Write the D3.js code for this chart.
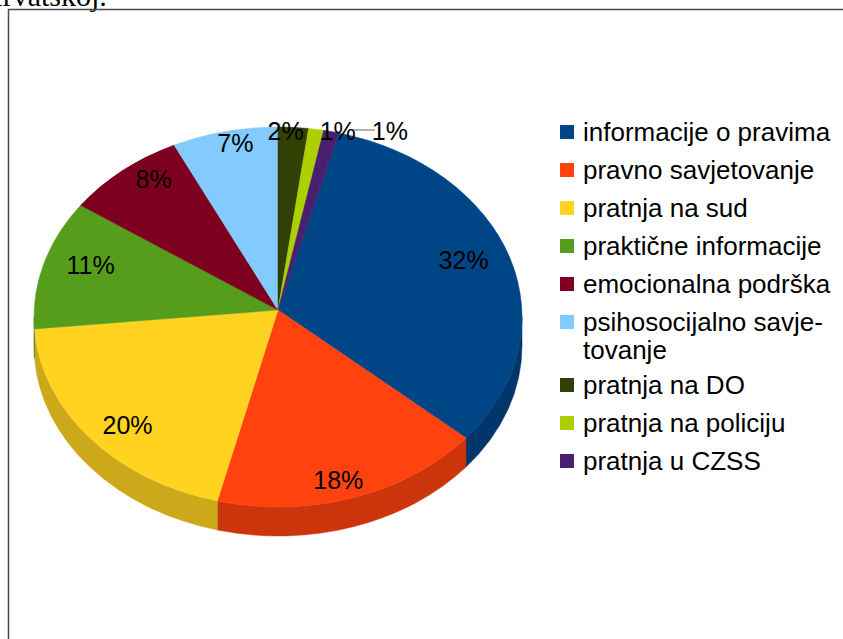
<!DOCTYPE html>
<html>
<head>
<meta charset="utf-8">
<script src="https://cdn.jsdelivr.net/npm/d3@7"></script>
<style>
  body { margin: 0; background: #fff; }
  svg { display: block; }
</style>
</head>
<body>
<div id="chart"></div>
<script>
// values (percent)
const categories = ["informacije o pravima", "pravno savjetovanje", "pratnja na sud",
    "praktične informacije", "emocionalna podrška", "psihosocijalno savjetovanje",
    "pratnja na DO", "pratnja na policiju", "pratnja u CZSS"];
const values = [32, 18, 20, 11, 8, 7, 2, 1, 1];
const colors = ["#004586", "#ff420e", "#ffd320", "#579d1c", "#7e0021",
    "#83caff", "#314004", "#aecf00", "#4b1f6f"];
const legendLines = [["informacije o pravima"], ["pravno savjetovanje"], ["pratnja na sud"],
    ["praktične informacije"], ["emocionalna podrška"], ["psihosocijalno savje-", "tovanje"],
    ["pratnja na DO"], ["pratnja na policiju"], ["pratnja u CZSS"]];

const W = 843, H = 639;
const font = "'Liberation Sans', Arial, sans-serif";

const svg = d3.select("#chart").append("svg")
    .attr("width", W)
    .attr("height", H);

// cut-off line of document text above the chart frame
svg.append("text")
    .attr("x", -19)
    .attr("y", 6)
    .style("font-family", "'Liberation Serif', 'Times New Roman', serif")
    .style("font-size", "30px")
    .text("Hrvatskoj.");

// chart frame (runs off the page right and bottom)
svg.append("rect")
    .attr("x", 8.5).attr("y", 9.5)
    .attr("width", 900).attr("height", 700)
    .attr("fill", "none")
    .attr("stroke", "#4a4a4a")
    .attr("stroke-width", 1.5);

// pie geometry
const cx = 278, cy = 317, rx = 244, ry = 190, apexY = 310, depth = 29;
const TAU = Math.PI * 2;

function pt(a, dy) {
    return [cx + rx * Math.sin(a), cy - ry * Math.cos(a) + (dy || 0)];
}

// "pratnja na DO" starts at 12 o'clock, slices run clockwise
const startIdx = categories.indexOf("pratnja na DO");
const offset = -TAU * d3.sum(values.slice(0, startIdx)) / d3.sum(values);

const pie = d3.pie().sort(null).value(d => d)
    .startAngle(offset).endAngle(offset + TAU);
const arcs = pie(values);

// front rim pieces
const rimG = svg.append("g");
arcs.forEach(function (d, i) {
    for (let k = -2; k <= 1; k++) {
        const lo = Math.PI / 2 + k * TAU, hi = 3 * Math.PI / 2 + k * TAU;
        const b0 = Math.max(d.startAngle, lo), b1 = Math.min(d.endAngle, hi);
        if (b1 <= b0) continue;
        const p0 = pt(b0), p1 = pt(b1), q1 = pt(b1, depth), q0 = pt(b0, depth);
        const path = ["M", p0[0], p0[1],
            "A", rx, ry, 0, 0, 1, p1[0], p1[1],
            "L", q1[0], q1[1],
            "A", rx, ry, 0, 0, 0, q0[0], q0[1], "Z"].join(" ");
        const c = d3.color(colors[i]).darker(0.62);
        rimG.append("path")
            .attr("d", path)
            .attr("fill", c)
            .attr("stroke", c)
            .attr("stroke-width", 0.5);
    }
});

// top face
svg.append("g").selectAll("path")
    .data(arcs)
    .enter().append("path")
    .attr("d", function (d) {
        const p0 = pt(d.startAngle), p1 = pt(d.endAngle);
        const large = d.endAngle - d.startAngle > Math.PI ? 1 : 0;
        return ["M", cx, apexY, "L", p0[0], p0[1],
            "A", rx, ry, 0, large, 1, p1[0], p1[1], "Z"].join(" ");
    })
    .attr("fill", (d, i) => colors[i])
    .attr("stroke", (d, i) => colors[i])
    .attr("stroke-width", 0.5);

// percentage labels
const total = d3.sum(values);
const labelG = svg.append("g")
    .style("font-family", font)
    .style("font-size", "25px");
let prevRight = -Infinity;
arcs.forEach(function (d, i) {
    const mid = (d.startAngle + d.endAngle) / 2;
    const small = d.value / total < 0.03;
    let x, y;
    if (!small) {
        x = cx + 0.8 * rx * Math.sin(mid);
        y = apexY + 4 - 0.92 * ry * Math.cos(mid);
    } else {
        x = cx + 0.5 * rx * Math.sin(mid);
        y = cy - ry + 4;
    }
    const t = labelG.append("text")
        .attr("text-anchor", "middle")
        .attr("y", y + 9)
        .text(d3.format("d")(d.value) + "%");
    const w = t.node().getComputedTextLength();
    if (small) {
        const want = x;
        if (x - w / 2 < prevRight + 16) x = prevRight + 16 + w / 2;
        if (x - want > 60) {
            labelG.append("line")
                .attr("x1", prevRight - 3).attr("x2", x - w / 2 + 3)
                .attr("y1", y - 1).attr("y2", y - 1)
                .attr("stroke", "#666")
                .attr("stroke-width", 1);
        }
        prevRight = x + w / 2;
    }
    t.attr("x", x);
});

// legend
const legend = svg.append("g")
    .style("font-family", font)
    .style("font-size", "26px");
let ly = 132;
legendLines.forEach(function (lines, i) {
    legend.append("rect")
        .attr("x", 560).attr("y", ly - 7)
        .attr("width", 14).attr("height", 14)
        .attr("fill", colors[i]);
    lines.forEach(function (s, j) {
        legend.append("text")
            .attr("x", 583)
            .attr("y", ly + j * 28 + 9)
            .text(s);
    });
    ly += 38 + (lines.length - 1) * 25;
});
</script>
</body>
</html>
